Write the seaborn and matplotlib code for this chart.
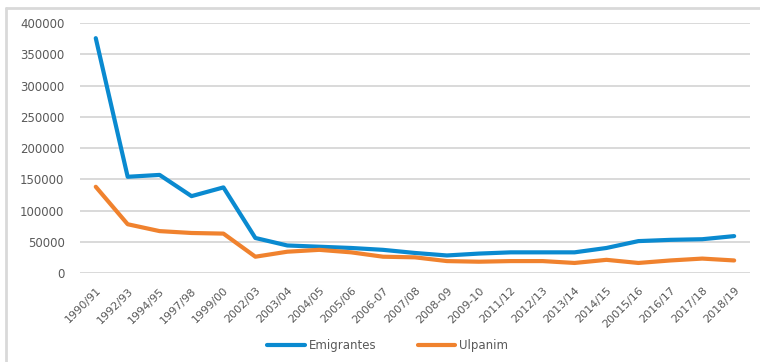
import numpy as np
import pandas as pd
import seaborn as sns
import matplotlib.pyplot as plt
from matplotlib.lines import Line2D

# Data
years = ["1990/91", "1992/93", "1994/95", "1997/98", "1999/00", "2002/03", "2003/04",
         "2004/05", "2005/06", "2006-07", "2007/08", "2008-09", "2009-10", "2011/12",
         "2012/13", "2013/14", "2014/15", "20015/16", "2016/17", "2017/18", "2018/19"]
emigrantes = [376000, 154000, 157000, 123000, 137000, 56000, 44000, 42000, 40000, 37000,
              32000, 28000, 31000, 33000, 33000, 33000, 40000, 51000, 53000, 54000, 59000]
ulpanim = [138000, 78000, 67000, 64000, 63000, 26000, 34000, 37000, 33000, 26000,
           25000, 19000, 18000, 19000, 19000, 16000, 21000, 16000, 20000, 23000, 20000]
yticks = [0, 50000, 100000, 150000, 200000, 250000, 300000, 350000, 400000]

df = pd.DataFrame({"year": years, "Emigrantes": emigrantes, "Ulpanim": ulpanim})
long = df.melt(id_vars="year", var_name="serie", value_name="valor")
long["pos"] = long["year"].map({y: i for i, y in enumerate(years)})

sns.set_style("white")
plt.rcParams["font.family"] = ["DejaVu Sans"]
txt = "#595959"

fig = plt.figure(figsize=(7.6, 3.62), dpi=100)
ax = fig.add_axes([0.105, 0.246, 0.882, 0.69])

sns.lineplot(data=long, x="pos", y="valor", hue="serie",
             palette={"Emigrantes": "#0A8AD0", "Ulpanim": "#F0822E"},
             linewidth=3, ax=ax, legend=False)

ax.set_xlim(-0.5, len(years) - 0.5)
ax.set_ylim(0, 400000)
ax.set_yticks(yticks)
ax.set_yticklabels([str(v) for v in yticks], fontsize=8.5, color=txt)
ax.set_xticks(range(len(years)))
ax.set_xticklabels(years, rotation=45, ha="right", rotation_mode="anchor",
                   fontsize=8, color=txt)
ax.tick_params(axis="x", length=0, pad=9)
ax.tick_params(axis="y", length=0, pad=11)
ax.grid(axis="y", color="#d9d9d9", linewidth=1.4)
ax.set_axisbelow(True)
for s in ax.spines.values():
    s.set_visible(False)
ax.set_xlabel("")
ax.set_ylabel("")

handles = [Line2D([0], [0], color="#0A8AD0", lw=3),
           Line2D([0], [0], color="#F0822E", lw=3)]
leg = fig.legend(handles, ["Emigrantes", "Ulpanim"], loc="center",
                 bbox_to_anchor=(0.51, 0.045), ncol=2, frameon=False,
                 fontsize=8.5, handlelength=3.2, handletextpad=0.3, columnspacing=3.5)
for t in leg.get_texts():
    t.set_color(txt)

# light frame on the left and top of the picture
fig.add_artist(Line2D([0.008, 0.008], [0.0, 0.978], color="#d9d9d9", lw=2, transform=fig.transFigure))
fig.add_artist(Line2D([0.008, 1.0], [0.978, 0.978], color="#d9d9d9", lw=2, transform=fig.transFigure))

fig.savefig("out.png", dpi=100)
